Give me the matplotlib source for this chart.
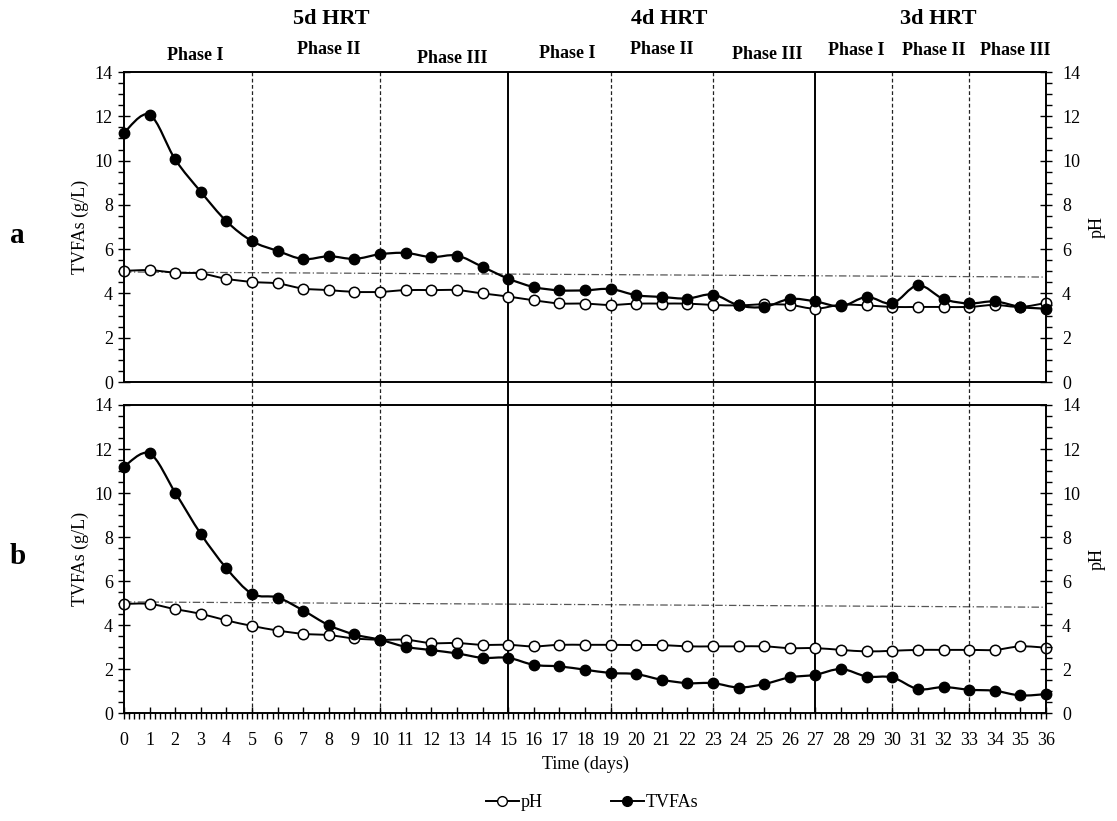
import numpy as np
import matplotlib
matplotlib.use("Agg")
import matplotlib.pyplot as plt
from matplotlib.path import Path
from matplotlib.patches import PathPatch
from matplotlib.lines import Line2D
from matplotlib.ticker import MultipleLocator

plt.rcParams['font.family'] = ['Liberation Serif', 'DejaVu Serif']

# data
days = np.arange(0, 37)

tvfa_a = [11.26, 12.07, 10.05, 8.59, 7.26, 6.36, 5.92, 5.55, 5.68, 5.56, 5.77, 5.83,
          5.64, 5.71, 5.20, 4.67, 4.29, 4.14, 4.14, 4.20, 3.92, 3.84, 3.77, 3.95,
          3.46, 3.39, 3.75, 3.64, 3.42, 3.84, 3.55, 4.37, 3.75, 3.55, 3.64, 3.39, 3.31]
ph_a = [5.02, 5.05, 4.94, 4.90, 4.66, 4.52, 4.45, 4.22, 4.15, 4.07, 4.07, 4.15,
        4.15, 4.15, 4.00, 3.86, 3.69, 3.55, 3.54, 3.48, 3.54, 3.54, 3.54, 3.48,
        3.46, 3.51, 3.48, 3.31, 3.49, 3.46, 3.39, 3.39, 3.39, 3.39, 3.48, 3.39, 3.57]

tvfa_b = [11.20, 11.80, 10.02, 8.14, 6.58, 5.42, 5.25, 4.66, 3.99, 3.57, 3.33, 3.01,
          2.86, 2.71, 2.51, 2.51, 2.19, 2.12, 1.97, 1.82, 1.77, 1.51, 1.36, 1.36,
          1.16, 1.32, 1.62, 1.74, 2.00, 1.66, 1.62, 1.09, 1.18, 1.06, 1.01, 0.80, 0.86]
ph_b = [4.96, 4.96, 4.72, 4.51, 4.21, 3.96, 3.75, 3.60, 3.54, 3.39, 3.33, 3.33,
        3.18, 3.18, 3.10, 3.10, 3.03, 3.10, 3.10, 3.10, 3.09, 3.09, 3.03, 3.03,
        3.03, 3.03, 2.95, 2.95, 2.87, 2.80, 2.83, 2.87, 2.87, 2.87, 2.87, 3.03, 2.97]

# reference (dash-dot) line end values for each panel
ref_a = [4.97, 4.74]
ref_b = [5.05, 4.81]

hrt_changes = [15, 27]
phase_changes = [5, 10, 19, 23, 30, 33]

hrt_labels = ['5d HRT', '4d HRT', '3d HRT']
hrt_pos = [8.1, 21.3, 31.8]
phase_labels = ['Phase I', 'Phase II', 'Phase III'] * 3
phase_pos = [2.8, 8.0, 12.8, 17.3, 21.0, 25.1, 28.6, 31.6, 34.8]
phase_y = [1.052, 1.071, 1.045, 1.061, 1.071, 1.055, 1.068, 1.068, 1.068]


def smooth_path(x, y):
    # excel-like smoothed line (catmull-rom bezier)
    p = np.column_stack([x, y]).astype(float)
    n = len(p)
    verts = [p[0]]
    codes = [Path.MOVETO]
    for i in range(n - 1):
        p0 = p[i - 1] if i > 0 else p[i]
        p1 = p[i]
        p2 = p[i + 1]
        p3 = p[i + 2] if i + 2 < n else p[i + 1]
        c1 = p1 + (p2 - p0) / 6.0
        c2 = p2 - (p3 - p1) / 6.0
        verts += [c1, c2, p2]
        codes += [Path.CURVE4] * 3
    return Path(verts, codes)


fig = plt.figure(figsize=(11.17, 8.21), dpi=100)
ax1 = fig.add_axes([0.111, 0.5347, 0.8254, 0.3776])
ax2 = fig.add_axes([0.111, 0.1315, 0.8254, 0.3752])

for ax, tv, ph, ref in [(ax1, tvfa_a, ph_a, ref_a), (ax2, tvfa_b, ph_b, ref_b)]:
    ax.set_xlim(0, 36)
    ax.set_ylim(0, 14)
    ax.plot([0, 36], ref, color='#555555', lw=0.9, ls=(0, (6, 2, 1, 2)), zorder=1)
    for d in hrt_changes:
        ax.axvline(d, color='black', lw=1.4, zorder=1)
    for d in phase_changes:
        ax.axvline(d, color='#222222', lw=0.9, ls=(0, (3, 2)), zorder=1)
    ax.add_patch(PathPatch(smooth_path(days, ph), fill=False, lw=1.4,
                           edgecolor='black', zorder=3, clip_on=False))
    ax.add_patch(PathPatch(smooth_path(days, tv), fill=False, lw=1.6,
                           edgecolor='black', zorder=3, clip_on=False))
    ax.plot(days, ph, 'o', ms=7.5, mfc='white', mec='black', mew=1.1,
            zorder=4, clip_on=False)
    ax.plot(days, tv, 'o', ms=7.5, mfc='black', mec='black', zorder=5, clip_on=False)

    ax.set_ylabel('TVFAs (g/L)', fontsize=13, labelpad=4)
    ax.yaxis.set_major_locator(MultipleLocator(2))
    ax.yaxis.set_minor_locator(MultipleLocator(0.5))
    ax.tick_params(axis='y', which='major', direction='inout', length=9,
                   width=1, labelsize=13)
    ax.tick_params(axis='y', which='minor', direction='out', length=4, width=1)
    for s in ax.spines.values():
        s.set_linewidth(1.2)

    axr = ax.twinx()
    axr.set_ylim(0, 14)
    axr.yaxis.set_major_locator(MultipleLocator(2))
    axr.yaxis.set_minor_locator(MultipleLocator(0.5))
    axr.tick_params(axis='y', which='major', direction='inout', length=9,
                    width=1, labelsize=13, pad=7)
    axr.tick_params(axis='y', which='minor', direction='out', length=4, width=1)
    axr.set_ylabel('pH', fontsize=13, labelpad=6)
    for s in axr.spines.values():
        s.set_linewidth(1.2)

# top panel: no x axis ticks, lines run through the gap
ax1.set_xticks([])
gap = (0.5347 - (0.1315 + 0.3752)) / 0.3776
for d in hrt_changes:
    ax1.axvline(d, ymin=-gap, ymax=0, color='black', lw=1.4, clip_on=False)
for d in phase_changes:
    ax1.axvline(d, ymin=-gap, ymax=0, color='#222222', lw=0.9, ls=(0, (3, 2)),
                clip_on=False)

ax2.xaxis.set_major_locator(MultipleLocator(1))
ax2.xaxis.set_minor_locator(MultipleLocator(0.2))
ax2.tick_params(axis='x', which='major', direction='inout', length=9, width=1,
                labelsize=13, pad=9)
ax2.tick_params(axis='x', which='minor', direction='out', length=4, width=1)
ax2.set_xlabel('Time (days)', fontsize=13, labelpad=5)

for lab, x in zip(hrt_labels, hrt_pos):
    ax1.text(x, 1.17, lab, transform=ax1.get_xaxis_transform(), ha='center',
             va='center', fontsize=16, fontweight='bold')
for lab, x, y in zip(phase_labels, phase_pos, phase_y):
    ax1.text(x, y, lab, transform=ax1.get_xaxis_transform(), ha='center',
             va='center', fontsize=13, fontweight='bold')

fig.text(0.009, 0.713, 'a', fontsize=21, fontweight='bold', va='center')
fig.text(0.009, 0.322, 'b', fontsize=21, fontweight='bold', va='center')

handles = [Line2D([], [], color='black', lw=1.4, marker='o', ms=7, mfc='white',
                  mec='black'),
           Line2D([], [], color='black', lw=1.4, marker='o', ms=7, mfc='black')]
fig.legend(handles, ['pH', 'TVFAs'], loc='center', bbox_to_anchor=(0.53, 0.022),
           ncol=2, frameon=False, fontsize=13, handlelength=1.8,
           handletextpad=0.1, columnspacing=3.8)

fig.savefig('out.png', dpi=100)
